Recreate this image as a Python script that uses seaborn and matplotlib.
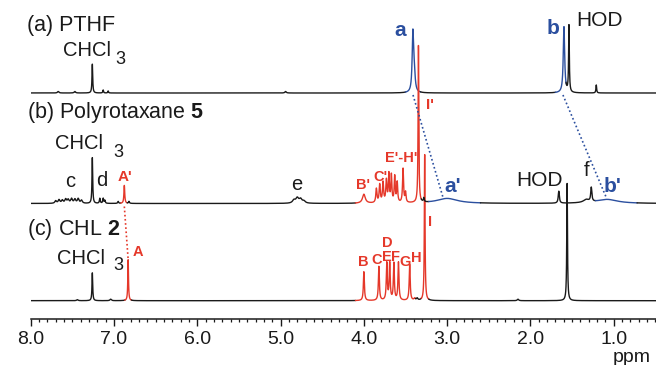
import numpy as np
import pandas as pd
import matplotlib
matplotlib.use("Agg")
import matplotlib.pyplot as plt
import seaborn as sns
from matplotlib.ticker import MultipleLocator, FormatStrFormatter

sns.set_theme(style="white")
plt.rcParams['font.family'] = ['Liberation Sans', 'DejaVu Sans']
plt.rcParams['mathtext.fontset'] = 'custom'
plt.rcParams['mathtext.rm'] = 'Liberation Sans'
plt.rcParams['mathtext.bf'] = 'Liberation Sans:bold'

RED = "#e5382a"
BLUE = "#2b4f9f"
BLACK = "#1a1a1a"

# ---------------- data ----------------
x_ticks = [8.0, 7.0, 6.0, 5.0, 4.0, 3.0, 2.0, 1.0]
ppm_left, ppm_right = 8.0, 0.493

# baselines (vertical offset of each trace)
base_a, base_b, base_c = 226.0, 115.5, 18.3

# (a) PTHF peaks: position (ppm), height, half-width (ppm)
a_pos = [7.26, 7.67, 7.47, 7.13, 7.07, 4.94, 3.412, 3.395, 1.598, 1.538, 1.21]
a_hgt = [29, 1.5, 1.5, 3, 2, 1.5, 58, 18, 66, 67, 8]
a_wid = [0.005, 0.01, 0.01, 0.005, 0.005, 0.01, 0.010, 0.012, 0.010, 0.005, 0.005]

# (b) Polyrotaxane 5 peaks
b_pos = [7.26, 7.70, 7.66, 7.62, 7.58, 7.55, 7.51, 7.47, 7.43, 7.39,
         7.17, 7.13, 7.11, 6.95, 6.876, 6.82,
         4.84, 4.80, 4.76, 4.72,
         4.00, 3.85, 3.81, 3.77, 3.73, 3.70, 3.67, 3.63, 3.60, 3.53, 3.50,
         3.345, 3.28, 3.00, 1.66, 1.33, 1.27, 1.08]
b_hgt = [46, 2.5, 3.5, 3, 4, 3.5, 4.5, 4, 4.5, 3,
         5, 5, 3, 2, 18, 2,
         3, 5, 4, 2,
         9, 14, 18, 20, 22, 28, 27, 26, 20, 34, 10,
         157, 4, 5, 12, 3, 14, 4]
b_wid = [0.005, 0.012, 0.012, 0.012, 0.012, 0.012, 0.012, 0.012, 0.012, 0.012,
         0.006, 0.006, 0.006, 0.006, 0.006, 0.006,
         0.02, 0.02, 0.02, 0.02,
         0.02, 0.008, 0.008, 0.008, 0.008, 0.007, 0.007, 0.007, 0.007, 0.007, 0.007,
         0.005, 0.006, 0.15, 0.008, 0.04, 0.008, 0.15]

# (c) CHL 2 peaks
c_pos = [7.26, 7.44, 7.04, 6.83, 4.00, 3.82, 3.725, 3.69, 3.64, 3.585, 3.45,
         3.39, 3.36, 3.27, 2.15, 1.56]
c_hgt = [28, 1, 1.5, 41, 29, 34, 37, 37, 37, 38, 36, 2, 2, 146, 1.5, 118]
c_wid = [0.005, 0.01, 0.01, 0.005, 0.007, 0.007, 0.007, 0.007, 0.007, 0.007, 0.007,
         0.01, 0.01, 0.005, 0.01, 0.005]

# colour segments (ppm high, ppm low, colour)
a_segments = [(8.37, 3.50, BLACK), (3.50, 3.32, BLUE), (3.32, 1.70, BLACK),
              (1.70, 1.572, BLUE), (1.572, 0.49, BLACK)]
b_segments = [(8.37, 6.92, BLACK), (6.92, 6.84, RED), (6.84, 4.10, BLACK),
              (4.10, 3.31, RED), (3.31, 3.22, BLACK), (3.22, 2.60, BLUE),
              (2.60, 1.22, BLACK), (1.22, 0.72, BLUE), (0.72, 0.49, BLACK)]
c_segments = [(8.37, 6.87, BLACK), (6.87, 6.79, RED), (6.79, 4.10, BLACK),
              (4.10, 3.38, RED), (3.38, 3.31, BLACK), (3.31, 3.22, RED),
              (3.22, 0.49, BLACK)]

# dotted correlation lines: (ppm1, y1, ppm2, y2)
link_a = (3.41, base_a - 2, 3.05, base_b + 6)
link_b = (1.61, base_a - 2, 1.09, base_b + 6)
link_A = (6.876, base_b - 3, 6.83, base_c + 41)

# ---------------- figure ----------------
W, H = 656, 365
fig = plt.figure(figsize=(W / 100, H / 100), dpi=100)
x0 = 30.7
ax = fig.add_axes([x0 / W, 46 / H, 1 - x0 / W, 319 / H])
ax.set_facecolor("white")

x_left = ppm_left + x0 / 83.3
grid = np.linspace(8.40, 0.45, 9000)


def trace(pos, hgt, wid, base):
    y = np.full_like(grid, base)
    for p, h, w in zip(pos, hgt, wid):
        y += h * w ** 2 / ((grid - p) ** 2 + w ** 2)
    return y


traces = [(trace(a_pos, a_hgt, a_wid, base_a), a_segments),
          (trace(c_pos, c_hgt, c_wid, base_c), c_segments),
          (trace(b_pos, b_hgt, b_wid, base_b), b_segments)]

for y, segs in traces:
    for hi, lo, col in segs:
        m = (grid <= hi + 0.002) & (grid >= lo - 0.002)
        df = pd.DataFrame({"ppm": grid[m], "intensity": y[m]})
        sns.lineplot(data=df, x="ppm", y="intensity", color=col, lw=1.0,
                     estimator=None, sort=False, ax=ax)

for (p1, y1, p2, y2), col in [(link_a, BLUE), (link_b, BLUE), (link_A, RED)]:
    ax.plot([p1, p2], [y1, y2], ls=(0, (1, 1.5)), color=col, lw=1.2)

ax.set_xlim(ppm_left, ppm_right)
ax.set_ylim(0, 319)
ax.set_xlabel("")
ax.set_ylabel("")
ax.set_yticks([])
for s in ["top", "left", "right"]:
    ax.spines[s].set_visible(False)
ax.spines["bottom"].set_color(BLACK)
ax.spines["bottom"].set_linewidth(1.1)
ax.set_xticks(x_ticks)
ax.xaxis.set_major_formatter(FormatStrFormatter("%.1f"))
ax.xaxis.set_minor_locator(MultipleLocator(0.1))
ax.tick_params(axis="x", which="major", direction="out", length=5, width=1,
               color=BLACK, labelsize=14, pad=4, labelcolor=BLACK, bottom=True)
ax.tick_params(axis="x", which="minor", direction="out", length=2.5, width=0.9,
               color=BLACK, bottom=True)


def T(x, y, s, size=14, color=BLACK, weight="normal", ha="left", va="center"):
    fig.text(x / W, 1 - y / H, s, fontsize=size, color=color, fontweight=weight,
             ha=ha, va=va)


# panel labels
T(27, 25, "(a) PTHF", 15.5)
T(27, 113, r"(b) Polyrotaxane $\mathbf{5}$", 15.5)
T(27, 229, r"(c) CHL $\mathbf{2}$", 15.5)

# CHCl3 labels
for (xc, yc, x3, y3) in [(63, 51, 115, 60), (55, 143.5, 113, 152), (57, 258.5, 113, 266)]:
    T(xc, yc, "CHCl", 14.5)
    T(x3, y3, "3", 13)

# (a) labels
T(400, 30, "a", 15, BLUE, "bold", ha="center")
T(553, 28, "b", 15, BLUE, "bold", ha="center")
T(600, 20, "HOD", 15, ha="center")
T(430, 105, "I'", 11, RED, "bold", ha="center")

# (b) labels
T(70, 182, "c", 14.5, ha="center")
T(102, 180, "d", 14.5, ha="center")
T(125, 177, "A'", 11, RED, "bold", ha="center")
T(297, 184, "e", 14.5, ha="center")
T(363, 185, "B'", 10.5, RED, "bold", ha="center")
T(380, 177, "C'", 10.5, RED, "bold", ha="center")
T(401, 158, "E'-H'", 10.5, RED, "bold", ha="center")
T(453, 187, "a'", 15, BLUE, "bold", ha="center")
T(540, 180, "HOD", 15, ha="center")
T(587, 170, "f", 14.5, ha="center")
T(613, 186, "b'", 15, BLUE, "bold", ha="center")

# (c) labels
T(138, 252, "A", 10.5, RED, "bold", ha="center")
T(363, 262, "B", 10.5, RED, "bold", ha="center")
T(377, 260, "C", 10.5, RED, "bold", ha="center")
T(387, 243, "D", 10.5, RED, "bold", ha="center")
T(387, 257, "E", 10.5, RED, "bold", ha="center")
T(396, 257, "F", 10.5, RED, "bold", ha="center")
T(405, 262, "G", 10.5, RED, "bold", ha="center")
T(416, 258, "H", 10.5, RED, "bold", ha="center")
T(430, 222, "I", 10.5, RED, "bold", ha="center")

# axis unit
T(613, 357, "ppm", 14)

fig.savefig("out.png", dpi=100, facecolor="white")
